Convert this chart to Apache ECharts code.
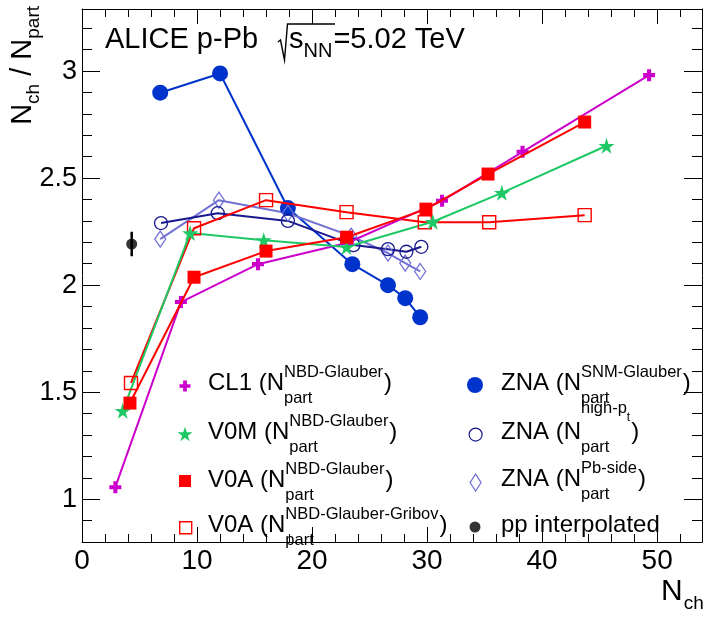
<!DOCTYPE html>
<html><head><meta charset="utf-8">
<script src="https://cdn.jsdelivr.net/npm/echarts@6/dist/echarts.min.js"></script>
<style>html,body{margin:0;padding:0;background:#fff}#c{width:704px;height:617px}</style>
</head><body><div id="c"></div>
<script>
// ---------- data ----------
const cl1X = [2.9, 8.6, 15.3, 23.1, 31.3, 38.3, 49.3];
const cl1Y = [1.056, 1.921, 2.098, 2.198, 2.394, 2.623, 2.981];
const v0mX = [3.54, 9.4, 15.8, 23.0, 30.5, 36.5, 45.6];
const v0mY = [1.413, 2.243, 2.21, 2.178, 2.296, 2.431, 2.651];
const v0aX = [4.17, 9.74, 16.0, 23.0, 29.9, 35.3, 43.7];
const v0aY = [1.449, 2.037, 2.159, 2.224, 2.355, 2.519, 2.762];
const v0aGX = [4.26, 9.74, 16.0, 23.0, 29.8, 35.4, 43.7];
const v0aGY = [1.543, 2.266, 2.397, 2.341, 2.294, 2.294, 2.327];
const znaSX = [6.8, 12.0, 17.9, 23.5, 26.6, 28.1, 29.4];
const znaSY = [2.899, 2.989, 2.36, 2.098, 2.0, 1.939, 1.85];
const znaHX = [6.87, 11.8, 17.9, 23.6, 26.6, 28.2, 29.5];
const znaHY = [2.29, 2.336, 2.30, 2.187, 2.168, 2.156, 2.179];
const znaPX = [6.8, 11.9, 17.9, 23.4, 26.6, 28.1, 29.4];
const znaPY = [2.215, 2.397, 2.336, 2.229, 2.15, 2.103, 2.064];
const ppX = [4.32];
const ppY = [2.192];
const ppErr = [0.057];

const xTicksMajor = [0, 10, 20, 30, 40, 50];
const xTicksMinor = [2, 4, 6, 8, 12, 14, 16, 18, 22, 24, 26, 28, 32, 34, 36, 38, 42, 44, 46, 48, 52];
const yTicksMajor = [1, 1.5, 2, 2.5, 3];
const yTicksMinor = [0.9, 1.1, 1.2, 1.3, 1.4, 1.6, 1.7, 1.8, 1.9, 2.1, 2.2, 2.3, 2.4, 2.6, 2.7, 2.8, 2.9, 3.1, 3.2];

const seriesNames = ['CL1', 'V0M', 'V0A', 'V0A Gribov', 'ZNA SNM', 'ZNA high-pt', 'ZNA Pb-side', 'pp interpolated'];
const legendMain = ['CL1 (N', 'V0M (N', 'V0A (N', 'V0A (N', 'ZNA (N', 'ZNA (N', 'ZNA (N', 'pp interpolated'];
const legendSup = ['NBD-Glauber', 'NBD-Glauber', 'NBD-Glauber', 'NBD-Glauber-Gribov', 'SNM-Glauber', 'high-p', 'Pb-side', ''];
const legendSub = ['part', 'part', 'part', 'part', 'part', 'part', 'part', ''];

// ---------- style ----------
const FONT = '"Liberation Sans", Arial, Helvetica, sans-serif';
const C_MAG = '#cc00cc', C_GRN = '#1ec864', C_RED = '#ff0000', C_BLU = '#0033cc', C_NAV = '#18188f', C_LAV = '#7272d4';
const PLUS = 'path://M3.3,0H6.7V3.3H10V6.7H6.7V10H3.3V6.7H0V3.3H3.3Z';
const STAR = 'path://M50,0L61.2,34.6L97.6,34.5L68.1,55.9L79.4,90.5L50,69L20.6,90.5L31.9,55.9L2.4,34.5L38.8,34.6Z';
const XMAX = 53.9, YMIN = 0.8, YMAX = 3.29;

const pairs = (xs, ys) => xs.map((x, i) => [x, ys[i]]);

const measure = document.createElement('canvas').getContext('2d');
function tw(s, size) { measure.font = size + 'px ' + FONT; return measure.measureText(s).width; }
function T(x, base, s, size) {
  return { type: 'text', x: x, y: base - 0.35 * size, silent: true, z: 100,
    style: { text: s, fill: '#000', fontSize: size, fontFamily: FONT, align: 'left', verticalAlign: 'middle' } };
}

function xAx(pos, vals, len, withLine, labels) {
  return { type: 'value', min: 0, max: XMAX, position: pos,
    axisLine: { show: withLine, onZero: false, lineStyle: { color: '#000', width: 1 } },
    axisTick: { show: true, inside: true, length: len, customValues: vals, lineStyle: { color: '#000', width: 1 } },
    axisLabel: labels ? { show: true, customValues: xTicksMajor, color: '#000', fontSize: 28, fontFamily: FONT, margin: 5 } : { show: false },
    splitLine: { show: false } };
}
function yAx(pos, vals, len, withLine, labels) {
  return { type: 'value', min: YMIN, max: YMAX, position: pos,
    axisLine: { show: withLine, onZero: false, lineStyle: { color: '#000', width: 1 } },
    axisTick: { show: true, inside: true, length: len, customValues: vals, lineStyle: { color: '#000', width: 1 } },
    axisLabel: labels ? { show: true, customValues: yTicksMajor, color: '#000', fontSize: 27, fontFamily: FONT, margin: 5,
      formatter: v => String(v) } : { show: false },
    splitLine: { show: false } };
}

function lineSeries(name, xs, ys, color, symbol, size, itemStyle, z) {
  return { type: 'line', name: name, data: pairs(xs, ys), symbol: symbol, symbolSize: size, showAllSymbol: true,
    itemStyle: itemStyle, lineStyle: { color: color, width: 2 }, silent: true, z: z, animation: false };
}

const series = [
  lineSeries('ZNA SNM', znaSX, znaSY, C_BLU, 'circle', 16, { color: C_BLU }, 2),
  lineSeries('ZNA Pb-side', znaPX, znaPY, C_LAV, 'diamond', [11, 16], { color: 'rgba(0,0,0,0)', borderColor: C_LAV, borderWidth: 1.3 }, 2),
  lineSeries('ZNA high-pt', znaHX, znaHY, C_NAV, 'circle', 13, { color: 'rgba(0,0,0,0)', borderColor: C_NAV, borderWidth: 1.3 }, 2),
  lineSeries('V0A Gribov', v0aGX, v0aGY, C_RED, 'rect', 13, { color: 'rgba(0,0,0,0)', borderColor: C_RED, borderWidth: 1.4 }, 3),
  lineSeries('CL1', cl1X, cl1Y, C_MAG, PLUS, 12, { color: C_MAG }, 3),
  lineSeries('V0M', v0mX, v0mY, C_GRN, STAR, 16, { color: C_GRN }, 3),
  lineSeries('V0A', v0aX, v0aY, C_RED, 'rect', 13, { color: C_RED }, 4),
  { type: 'line', name: 'pp error', data: [[ppX[0], ppY[0] - ppErr[0]], [ppX[0], ppY[0] + ppErr[0]]], showSymbol: false, symbol: 'none',
    lineStyle: { color: '#000', width: 2.5 }, silent: true, z: 5 },
  { type: 'scatter', name: 'pp interpolated', data: pairs(ppX, ppY), symbol: 'circle', symbolSize: 11, itemStyle: { color: '#000' }, silent: true, z: 6 }
];

// legends (marker only)
function leg(name, cx, cy, w, h, icon, style) {
  return { show: true, data: [{ name: name, icon: icon, itemStyle: style }], left: cx - w / 2, top: cy - h / 2,
    itemWidth: w, itemHeight: h, padding: 0, itemGap: 0, selectedMode: false, formatter: () => '',
    textStyle: { fontSize: 1 } };
}
const legends = [
  leg('CL1', 185, 386, 11, 11, PLUS, { color: C_MAG, borderWidth: 0 }),
  leg('V0M', 185, 434, 15, 15, STAR, { color: C_GRN, borderWidth: 0 }),
  leg('V0A', 185, 481, 12, 12, 'rect', { color: C_RED, borderWidth: 0 }),
  leg('V0A Gribov', 185, 527, 12, 12, 'rect', { color: 'rgba(0,0,0,0)', borderColor: C_RED, borderWidth: 1.4 }),
  leg('ZNA SNM', 475, 385, 16, 16, 'circle', { color: C_BLU, borderWidth: 0 }),
  leg('ZNA high-pt', 475, 434, 13, 13, 'circle', { color: 'rgba(0,0,0,0)', borderColor: C_NAV, borderWidth: 1.2 }),
  leg('ZNA Pb-side', 475, 482, 11, 17, 'diamond', { color: 'rgba(0,0,0,0)', borderColor: C_LAV, borderWidth: 1.2 }),
  leg('pp interpolated', 475, 527, 11, 11, 'circle', { color: '#000', borderWidth: 0 })
];

// legend texts
const graphics = [];
const legX = [208, 208, 208, 208, 501, 501, 501, 501];
const legB = [392, 441, 489, 534, 392, 441, 488, 534];
for (let i = 0; i < 8; i++) {
  const x = legX[i], b = legB[i];
  graphics.push(T(x, b, legendMain[i], 24));
  if (!legendSup[i]) continue;
  const x2 = x + tw(legendMain[i], 24);
  let supEnd;
  if (i === 5) {
    graphics.push(T(x2, b - 27, legendSup[i], 16.5));
    const xt = x2 + tw(legendSup[i], 16.5);
    graphics.push(T(xt, b - 19, 't', 12));
    supEnd = xt + tw('t', 12);
  } else {
    graphics.push(T(x2, b - 14, legendSup[i], 16.5));
    supEnd = x2 + tw(legendSup[i], 16.5);
  }
  graphics.push(T(x2, b + 12, legendSub[i], 16.5));
  const x3 = Math.max(supEnd, x2 + tw(legendSub[i], 16.5)) + 1;
  graphics.push(T(x3, b, ')', 24));
}

// header
graphics.push(T(105, 50, 'ALICE p-Pb', 29));
graphics.push({ type: 'polyline', silent: true, z: 100, shape: { points: [[278, 42], [280.5, 40], [284.5, 60], [287.5, 24], [335, 24]] },
  style: { stroke: '#000', lineWidth: 1.4, fill: null } });
graphics.push(T(289, 50, 's', 29));
const nnX = 289 + tw('s', 29);
graphics.push(T(nnX, 58, 'NN', 20));
graphics.push(T(nnX + tw('NN', 20) + 1, 50, '=5.02 TeV', 29));

// x title
graphics.push(T(661, 602, 'N', 30));
graphics.push(T(661 + tw('N', 30) + 1, 610, 'ch', 19));

// y title (rotated)
function R(x, base, s, size) {
  return { type: 'text', x: x, y: base - 0.35 * size, silent: true,
    style: { text: s, fill: '#000', fontSize: size, fontFamily: FONT, align: 'left', verticalAlign: 'middle' } };
}
const yt = [];
let px = 0;
yt.push(R(px, 0, 'N', 29)); px += tw('N', 29);
yt.push(R(px, 7, 'ch', 19)); px += tw('ch', 19);
yt.push(R(px, 0, ' / N', 29)); px += tw(' / N', 29);
yt.push(R(px, 7, 'part', 19)); px += tw('part', 19);
graphics.push({ type: 'group', x: 33, y: 6 + px, rotation: Math.PI / 2, z: 100, children: yt });

const chart = echarts.init(document.getElementById('c'), null, { renderer: 'canvas' });
chart.setOption({
  animation: false,
  backgroundColor: '#fff',
  grid: { left: 82, right: 2, top: 9, bottom: 75, containLabel: false },
  xAxis: [
    xAx('bottom', xTicksMajor, 15, true, true),
    xAx('bottom', xTicksMinor, 8, false, false),
    xAx('top', xTicksMajor, 15, true, false),
    xAx('top', xTicksMinor, 8, false, false)
  ],
  yAxis: [
    yAx('left', yTicksMajor, 18, true, true),
    yAx('left', yTicksMinor, 10, false, false),
    yAx('right', yTicksMajor, 18, true, false),
    yAx('right', yTicksMinor, 10, false, false)
  ],
  legend: legends,
  series: series,
  graphic: graphics
});
</script>
</body></html>
